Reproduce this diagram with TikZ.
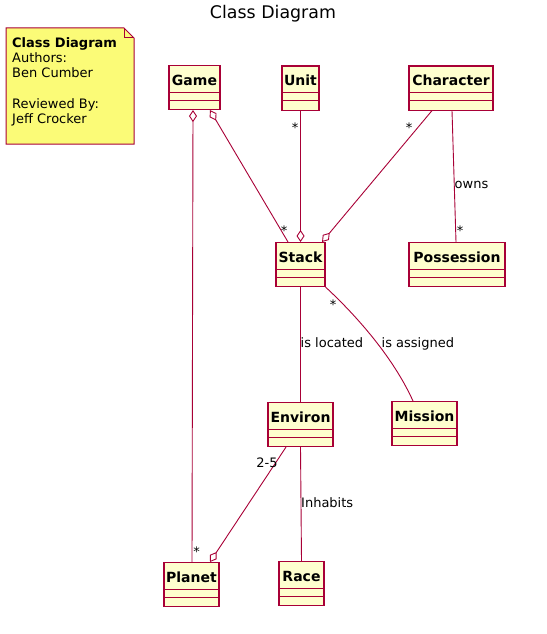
\documentclass[tikz,border=0pt]{standalone}
\usepackage{fontspec}
\setmainfont{DejaVu Sans}
\usetikzlibrary{arrows.meta,calc}
\definecolor{umlred}{HTML}{A80036}
\definecolor{umlbg}{HTML}{FEFECE}
\definecolor{notebg}{HTML}{FBFB77}
\tikzset{
  clsbox/.style={draw=umlred, fill=umlbg, line width=1.1pt, minimum height=44pt, inner sep=0pt, anchor=north},
  clsname/.style={font=\fontsize{14}{16}\selectfont\bfseries, inner sep=0pt, anchor=base},
  clsrule/.style={draw=umlred, line width=1pt},
  assoc/.style={draw=umlred, line width=0.9pt},
  mult/.style={font=\fontsize{13}{15}\selectfont, inner sep=0pt, anchor=base},
  lbl/.style={font=\fontsize{13}{15}\selectfont, inner sep=0pt, anchor=base west},
  notetxt/.style={font=\fontsize{13}{15}\selectfont, inner sep=0pt, anchor=base west},
}
\newcommand\umlclass[5]{%
  \node[clsbox, minimum width=#4] (#1) at (#2,#3) {};
  \node[clsname] (#1-name) at ([yshift=-20pt]#1.north) {#5};
  \draw[clsrule] ([yshift=-27pt]#1.north west) -- ([yshift=-27pt]#1.north east);
  \draw[clsrule] ([yshift=-35pt]#1.north west) -- ([yshift=-35pt]#1.north east);
}
\begin{document}
\begin{tikzpicture}[x=1pt,y=-1pt]
\useasboundingbox (0,0) rectangle (546,634);
% title
\node[font=\fontsize{17.4}{20}\selectfont, inner sep=0pt, anchor=base] (title) at (273,18.5) {Class Diagram};
% note
\draw[draw=umlred, fill=notebg, line width=1pt] (6,28) -- (124,28) -- (134,38) -- (134,144) -- (6,144) -- cycle;
\draw[draw=umlred, line width=1pt] (124,28) -- (124,38) -- (134,38);
\node[notetxt, font=\fontsize{13}{15}\selectfont\bfseries] (n1) at (12,48) {Class Diagram};
\node[notetxt] (n2) at (12,63) {Authors:};
\node[notetxt] (n3) at (12,77.5) {Ben Cumber};
\node[notetxt] (n4) at (12,108.5) {Reviewed By:};
\node[notetxt] (n5) at (12,123.5) {Jeff Crocker};
% classes
\umlclass{game}{194.5}{65}{51pt}{Game}
\umlclass{unit}{300.5}{65.5}{37pt}{Unit}
\umlclass{character}{451}{65.5}{84pt}{Character}
\umlclass{stack}{300.5}{242}{49pt}{Stack}
\umlclass{possession}{457}{242}{96pt}{Possession}
\umlclass{environ}{300.5}{402}{65pt}{Environ}
\umlclass{mission}{424.5}{401}{65pt}{Mission}
\umlclass{planet}{191.5}{562}{55pt}{Planet}
\umlclass{race}{301.5}{561}{45pt}{Race}
% connectors
\draw[assoc, {Diamond[open, length=12pt, width=8pt]}-] ([xshift=15.5pt]game.south) -- ([xshift=-12.5pt]stack.north);
\draw[assoc, {Diamond[open, length=12pt, width=8pt]}-] ([xshift=-1.5pt]game.south) -- ([xshift=0.5pt]planet.north);
\draw[assoc, -{Diamond[open, length=12pt, width=8pt]}] (unit.south) -- (stack.north);
\draw[assoc, -{Diamond[open, length=12pt, width=8pt]}] ([xshift=-19pt]character.south) -- ([xshift=21.5pt]stack.north);
\draw[assoc] ([xshift=1pt]character.south) -- ([xshift=-1pt]possession.north);
\draw[assoc] (stack.south) -- (environ.north);
\draw[assoc] (stack.south east) .. controls (345,305) and (390,350) .. ([xshift=-11.5pt]mission.north);
\draw[assoc, -{Diamond[open, length=12pt, width=8pt]}] ([xshift=-14.5pt]environ.south) -- ([xshift=18.5pt]planet.north);
\draw[assoc] (environ.south) -- (race.north);
% multiplicities
\node[mult] (m1) at (284,235) {*};
\node[mult] (m2) at (196.5,556) {*};
\node[mult] (m3) at (295,132) {*};
\node[mult] (m4) at (409,132) {*};
\node[mult] (m5) at (460,235) {*};
\node[mult] (m6) at (333,309) {*};
\node[mult] (m7) at (267,467) {2-5};
% labels
\node[lbl] (l1) at (454.5,188.5) {owns};
\node[lbl] (l2) at (300.5,347.5) {is located};
\node[lbl] (l3) at (381.5,347.5) {is assigned};
\node[lbl] (l4) at (301,507.5) {Inhabits};
\end{tikzpicture}
\end{document}
